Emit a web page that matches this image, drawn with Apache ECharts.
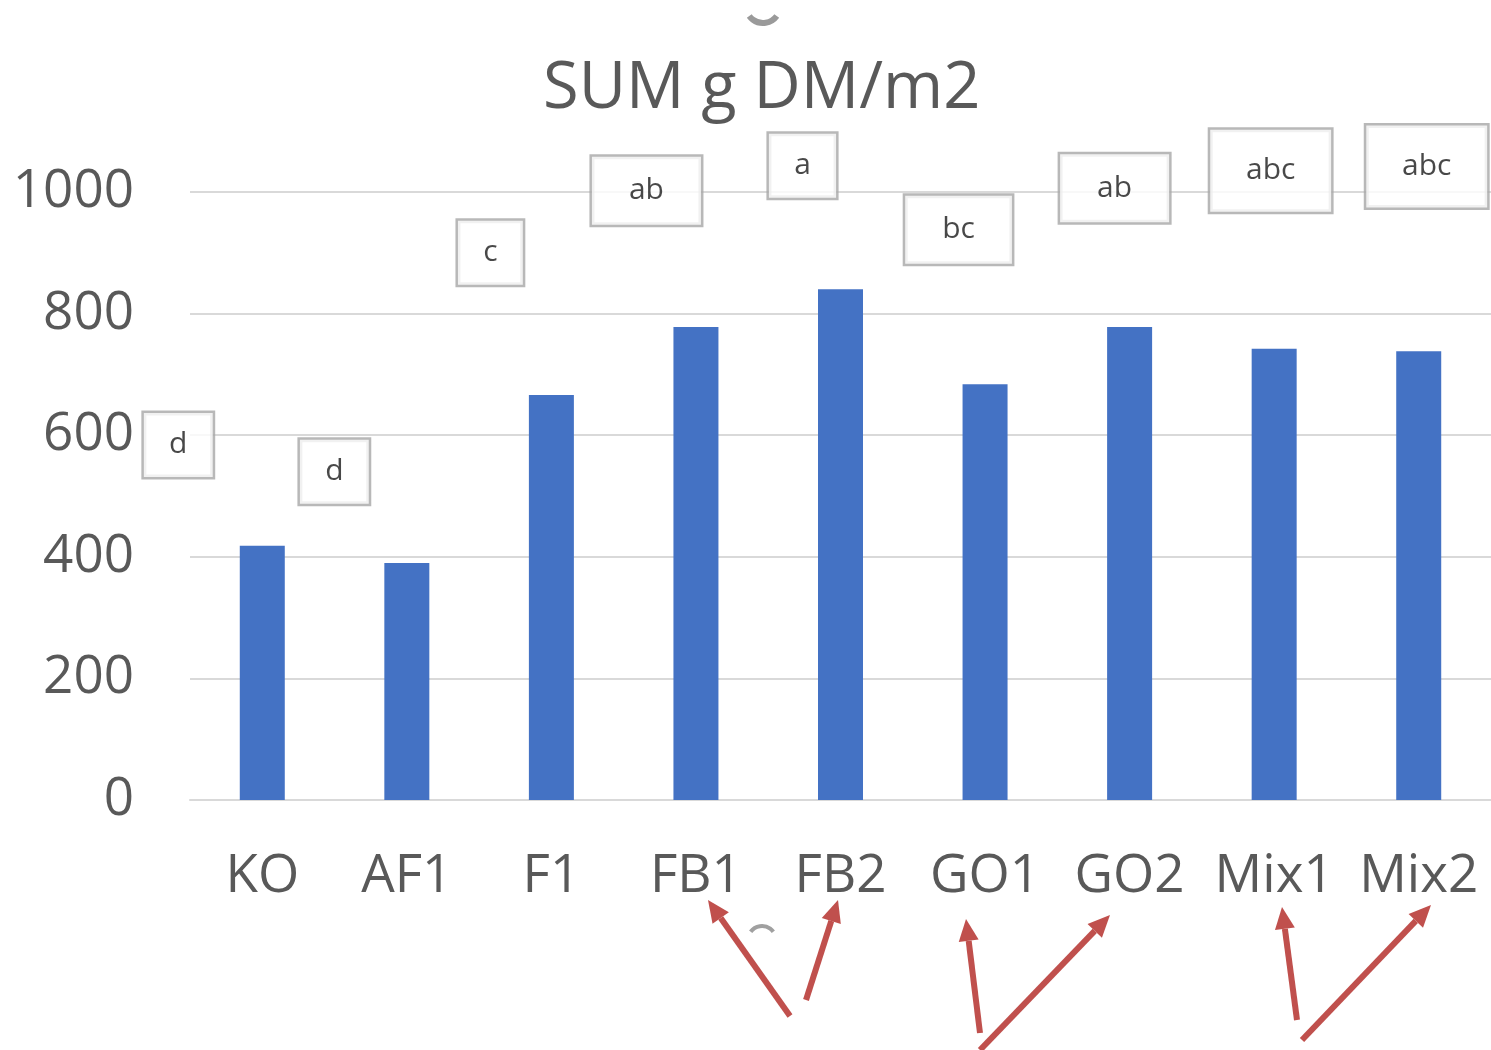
<!DOCTYPE html>
<html>
<head>
<meta charset="utf-8">
<script src="https://cdn.jsdelivr.net/npm/echarts@6/dist/echarts.min.js"></script>
<style>
  html, body { margin: 0; padding: 0; background: #fff; }
  #chart { width: 1491px; height: 1050px; }
</style>
</head>
<body>
<div id="chart"></div>
<script>
// treatments and summed dry matter
var categories = ['KO', 'AF1', 'F1', 'FB1', 'FB2', 'GO1', 'GO2', 'Mix1', 'Mix2'];
var sumDM = [418, 390, 666, 778, 840, 684, 778, 742, 738];
var yTicks = [0, 200, 400, 600, 800, 1000];

// significance letters and the height (g DM/m2) their boxes sit at
var letters = ['d', 'd', 'c', 'ab', 'a', 'bc', 'ab', 'abc', 'abc'];
var letterLevels = [584, 540, 900, 1002, 1043, 938, 1006, 1035, 1042];

var font = '"Open Sans", "Noto Sans", sans-serif';
var grey = '#595959';

// box size by number of letters
var boxW = [0, 67, 107, 121];
var boxH = [0, 64, 68, 82];

var letterData = letters.map(function (l, i) {
    var w = boxW[l.length], h = boxH[l.length];
    var tw = l.length * 16.5;
    return {
        value: [i, letterLevels[i]],
        label: {
            formatter: l,
            padding: [(h - 30) / 2, (w - tw) / 2],
            offset: [-84 + 11.5 * i, 0]
        }
    };
});

function arrow(x1, y1, x2, y2) {
    var a = Math.atan2(y2 - y1, x2 - x1);
    var len = 22, half = 10;
    var bx = x2 - len * Math.cos(a), by = y2 - len * Math.sin(a);
    var px = -Math.sin(a) * half, py = Math.cos(a) * half;
    return {
        type: 'group',
        children: [
            { type: 'line', shape: { x1: x1, y1: y1, x2: bx, y2: by },
              style: { stroke: '#c0504d', lineWidth: 6 } },
            { type: 'polygon', shape: { points: [[x2, y2], [bx + px, by + py], [bx - px, by - py]] },
              style: { fill: '#c0504d' } }
        ]
    };
}

var option = {
    backgroundColor: '#fff',
    animation: false,
    title: {
        text: 'SUM g DM/m2',
        left: 538,
        top: 52,
        textStyle: { fontFamily: font, fontSize: 65, fontWeight: 'normal', color: grey }
    },
    grid: { left: 190, right: 0, top: 192, bottom: 250, outerBoundsMode: 'none', containLabel: false },
    xAxis: {
        type: 'category',
        data: categories,
        axisTick: { show: false },
        axisLine: { lineStyle: { color: '#d9d9d9', width: 2 } },
        axisLabel: { fontFamily: font, fontSize: 53, color: grey, margin: 50, interval: 0, hideOverlap: false }
    },
    yAxis: {
        type: 'value',
        min: yTicks[0],
        max: yTicks[yTicks.length - 1],
        interval: 200,
        axisLine: { show: false },
        axisTick: { show: false },
        splitLine: { lineStyle: { color: '#d9d9d9', width: 2 } },
        axisLabel: { fontFamily: font, fontSize: 53, color: grey, margin: 56, formatter: function (v) { return String(v); } }
    },
    series: [
        {
            type: 'bar',
            data: sumDM,
            barWidth: 45,
            itemStyle: { color: '#4472c4' }
        },
        {
            type: 'scatter',
            data: letterData,
            symbolSize: 0,
            clip: false,
            z: 5,
            label: {
                show: true,
                position: 'inside',
                fontFamily: font,
                fontSize: 30,
                lineHeight: 30,
                color: '#1a1a1a',
                backgroundColor: '#fff',
                borderColor: '#a6a6a6',
                borderWidth: 2.5
            }
        }
    ],
    graphic: [
        arrow(790, 1016, 708, 900),
        arrow(806, 1000, 838, 900),
        arrow(980, 1033, 966, 919),
        arrow(980, 1050, 1110, 915),
        arrow(1297, 1020, 1282, 907),
        arrow(1302, 1040, 1431, 905),
        { type: 'arc', shape: { cx: 763, cy: 6, r: 17, startAngle: 0.2 * Math.PI, endAngle: 0.8 * Math.PI },
          style: { stroke: '#9a9a9a', lineWidth: 6, fill: null } },
        { type: 'arc', shape: { cx: 762, cy: 940, r: 14, startAngle: 1.2 * Math.PI, endAngle: 1.8 * Math.PI },
          style: { stroke: '#a0a0a0', lineWidth: 4, fill: null } }
    ]
};

var mychart = echarts.init(document.getElementById('chart'));
mychart.setOption(option);
</script>
</body>
</html>
